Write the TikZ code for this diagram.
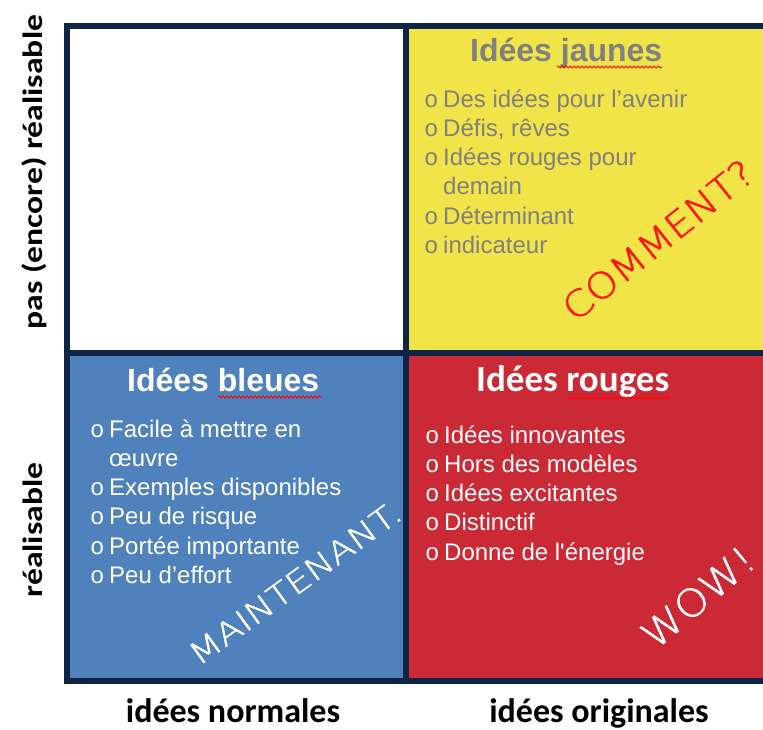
\documentclass[tikz,border=0pt]{standalone}
\usepackage{fontspec}
\usepackage{graphicx}
\setmainfont{Liberation Sans}
\newfontfamily\calibri{Carlito}
\newfontfamily\pucefont{Liberation Mono}
\newfontfamily\manuscrit[FakeBold=1.2]{DejaVu Sans ExtraLight}
\usetikzlibrary{decorations.pathmorphing}

\definecolor{cadre}{RGB}{16,37,70}
\definecolor{jaune}{RGB}{241,228,72}
\definecolor{bleu}{RGB}{79,129,189}
\definecolor{rouge}{RGB}{204,41,55}
\definecolor{gris}{RGB}{128,128,128}
\definecolor{rougevif}{RGB}{255,20,0}

\newcommand{\puce}{{\pucefont o}}

\begin{document}
\begin{tikzpicture}[x=1pt,y=-1pt,
    quadrant/.style={draw=cadre,line width=6pt,outer sep=0pt,inner sep=0pt,anchor=north west},
    titre/.style={font=\bfseries\fontsize{32}{32}\selectfont,anchor=base west,inner sep=0pt},
    liste/.style={font=\fontsize{24}{29.3}\selectfont,anchor=base west,inner sep=0pt},
    manu/.style={font=\manuscrit,inner sep=0pt},
    axe/.style={font=\calibri\bfseries\fontsize{34}{34}\selectfont,anchor=base,inner sep=0pt},
    souligne/.style={draw=red,line width=0.8pt,decorate,decoration={snake,segment length=4pt,amplitude=1.1pt}}]
    \clip (0,0) rectangle (763,729);
    % les quatre cases
    \node[quadrant,fill=white,minimum width=338.5pt,minimum height=327pt] (blanc) at (67,25.5) {};
    \node[quadrant,fill=jaune,minimum width=364.5pt,minimum height=327pt] (jaune) at (405.5,25.5) {};
    \node[quadrant,fill=bleu,minimum width=338.5pt,minimum height=328pt] (bleu) at (67,352.5) {};
    \node[quadrant,fill=rouge,minimum width=364.5pt,minimum height=328pt] (rouge) at (405.5,352.5) {};

    % idees jaunes
    \node[titre,text=gris] (tjaune) at (470,61) {Idées jaunes};
    \draw[souligne] (557,67) -- (662,67);
    \node[liste,text=gris] (ljaune) at (423.8,107) {\begin{tabular}[t]{@{}l@{\hspace{4.8pt}}l@{}}
        \puce & Des idées pour l’avenir\\
        \puce & Défis, rêves\\
        \puce & Idées rouges pour\\
              & demain\\
        \puce & Déterminant\\
        \puce & indicateur
    \end{tabular}};
    \node[manu,text=rougevif,rotate=38.6,font=\manuscrit\fontsize{36}{36}\selectfont] (comment) at (658,240) {\scalebox{1.13}[1]{COMMENT?}};

    % idees bleues
    \node[titre,text=white] (tbleu) at (127,391) {Idées bleues};
    \draw[souligne] (218,397) -- (322,397);
    \node[liste,text=white] (lbleu) at (89.8,437) {\begin{tabular}[t]{@{}l@{\hspace{4.8pt}}l@{}}
        \puce & Facile à mettre en\\
              & œuvre\\
        \puce & Exemples disponibles\\
        \puce & Peu de risque\\
        \puce & Portée importante\\
        \puce & Peu d’effort
    \end{tabular}};
    \node[manu,text=white,rotate=36,font=\manuscrit\fontsize{31}{31}\selectfont] (maintenant) at (295,583) {\scalebox{1.2}[1]{MAINTENANT.}};

    % idees rouges
    \node[titre,text=white,font=\calibri\bfseries\fontsize{37}{37}\selectfont] (trouge) at (476,391) {Idées rouges};
    \draw[souligne] (567,398) -- (670,398);
    \node[liste,text=white] (lrouge) at (424.8,443) {\begin{tabular}[t]{@{}l@{\hspace{4.8pt}}l@{}}
        \puce & Idées innovantes\\
        \puce & Hors des modèles\\
        \puce & Idées excitantes\\
        \puce & Distinctif\\
        \puce & Donne de l\textquotesingle énergie
    \end{tabular}};
    \node[manu,text=white,rotate=40,font=\manuscrit\fontsize{38}{38}\selectfont] (wow) at (698,597) {\scalebox{1.12}[1]{WOW!}};

    % axes
    \node[axe] (normales) at (233,722) {idées normales};
    \node[axe] (originales) at (599,722) {idées originales};
    \node[axe,rotate=90,font=\calibri\bfseries\fontsize{28}{28}\selectfont] (pasreal) at (42,172) {\scalebox{1.2}[1]{pas (encore) réalisable}};
    \node[axe,rotate=90,font=\calibri\bfseries\fontsize{28}{28}\selectfont] (real) at (42,530) {\scalebox{1.2}[1]{réalisable}};
\end{tikzpicture}
\end{document}
